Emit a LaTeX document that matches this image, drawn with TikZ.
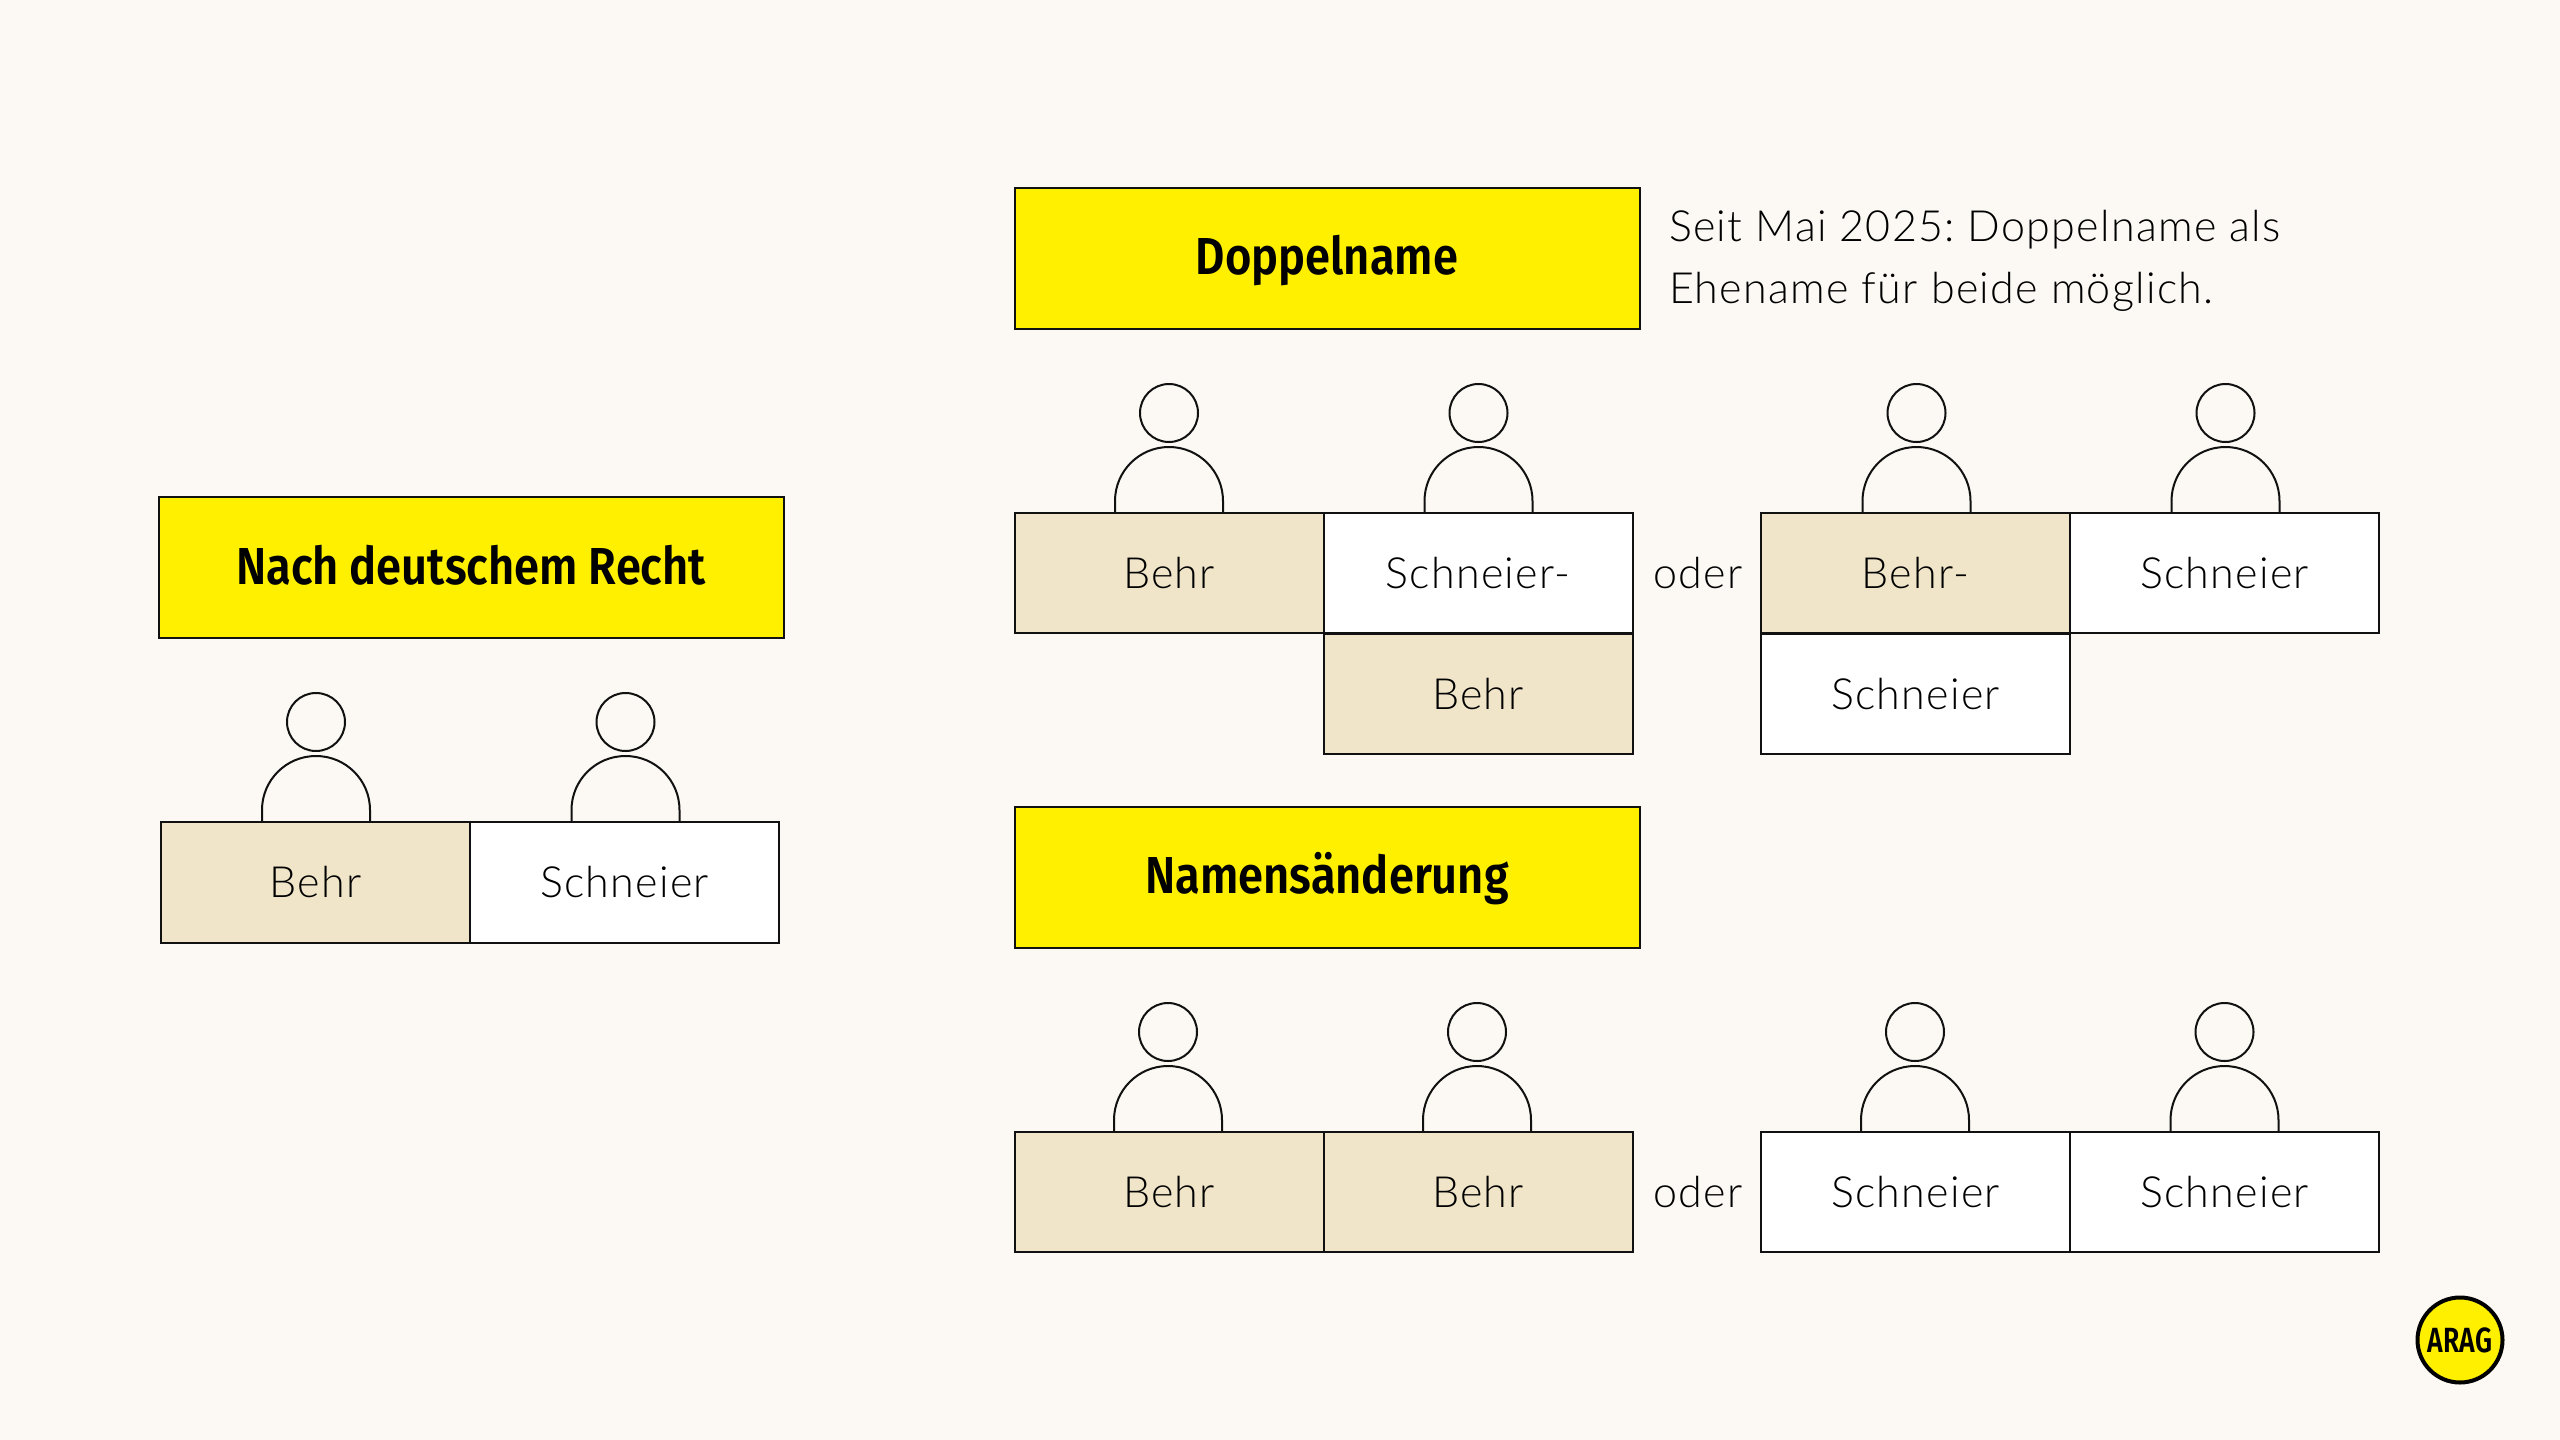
\documentclass[tikz,border=0pt]{standalone}
\usepackage{fontspec}
\setmainfont{Lato Light}[LetterSpace=3,BoldFont={Lato}]
\newfontfamily\headfont[FakeStretch=0.87]{Fira Sans SemiBold}
\newfontfamily\logofont[FakeStretch=0.76]{Fira Sans SemiBold}
\definecolor{bgc}{HTML}{FCF9F4}
\definecolor{yel}{HTML}{FFF000}
\definecolor{tan}{HTML}{F0E5C8}
\definecolor{ink}{HTML}{111111}
\tikzset{
  x=1pt,y=-1pt,
  heading/.style={draw=ink,line width=2pt,fill=yel,minimum width=625pt,minimum height=141pt,inner sep=0pt,outer sep=0pt,
    text height=33pt,text depth=0pt,font=\headfont\fontsize{52}{52}\selectfont,text=black},
  namebox/.style={draw=ink,line width=2pt,minimum width=309pt,minimum height=120.5pt,inner sep=0pt,outer sep=0pt,
    text height=30pt,text depth=0pt,font=\fontsize{43}{43}\selectfont\frenchspacing,text=black},
  tanbox/.style={namebox,fill=tan},
  whitebox/.style={namebox,fill=white},
  head/.style={circle,draw=ink,line width=2pt,minimum size=58pt,inner sep=0pt,outer sep=0pt},
  body/.style={draw=ink,line width=2pt,fill=none},
  plain/.style={inner sep=0pt,outer sep=0pt,text height=30pt,text depth=0pt,font=\fontsize{43}{43}\selectfont\frenchspacing,text=black},
}
\newcommand{\person}[3]{% name, cx, box top y
  \node[head] (#1h) at (#2,#3-100) {};
  \draw[body] (#2-54,#3) -- (#2-54,#3-12) arc[start angle=180,end angle=360,radius=54] -- (#2+54,#3);
}
\begin{document}
\begin{tikzpicture}
\useasboundingbox (0,0) rectangle (2560,1440);
\fill[bgc] (0,0) rectangle (2560,1440);
% left group
\node[heading] (hRecht) at (471,567.5) {Nach deutschem Recht};
\person{la}{316}{822}
\person{lb}{625.5}{822}
\node[tanbox] (l1) at (315.5,882.5) {Behr};
\node[whitebox] (l2) at (624.5,882.5) {Schneier};
% Doppelname
\node[heading] (hDoppel) at (1327,258) {Doppelname};
\node[plain,anchor=base west,text height=,text depth=] (note1) at (1669,241) {Seit Mai 2025: Doppelname als};
\node[plain,anchor=base west,text height=,text depth=] (note2) at (1669,303) {Ehename für beide möglich.};
\person{da}{1169}{513}
\person{db}{1478.5}{513}
\person{dc}{1916.5}{513}
\person{dd}{2225.5}{513}
\node[tanbox] (d1) at (1169,573) {Behr};
\node[whitebox] (d2) at (1478,573) {Schneier-};
\node[tanbox] (d3) at (1478,694) {Behr};
\node[plain] (o1) at (1698,573) {oder};
\node[tanbox] (d4) at (1915.5,573) {Behr-};
\node[whitebox] (d5) at (2224.5,573) {Schneier};
\node[whitebox] (d6) at (1915.5,694) {Schneier};
% Namensaenderung
\node[heading] (hName) at (1327,877) {Namensänderung};
\person{na}{1168}{1132}
\person{nb}{1477}{1132}
\person{nc}{1915}{1132}
\person{nd}{2224.5}{1132}
\node[tanbox] (n1) at (1169,1192) {Behr};
\node[tanbox] (n2) at (1478,1192) {Behr};
\node[plain] (o2) at (1698,1192) {oder};
\node[whitebox] (n3) at (1915.5,1192) {Schneier};
\node[whitebox] (n4) at (2224.5,1192) {Schneier};
% logo
\node[circle,draw=black,line width=4pt,fill=yel,minimum size=85pt,inner sep=0pt,text height=25pt,text depth=0pt,font=\logofont\fontsize{35}{35}\selectfont] (logo) at (2460,1340) {ARAG};
\end{tikzpicture}
\end{document}
